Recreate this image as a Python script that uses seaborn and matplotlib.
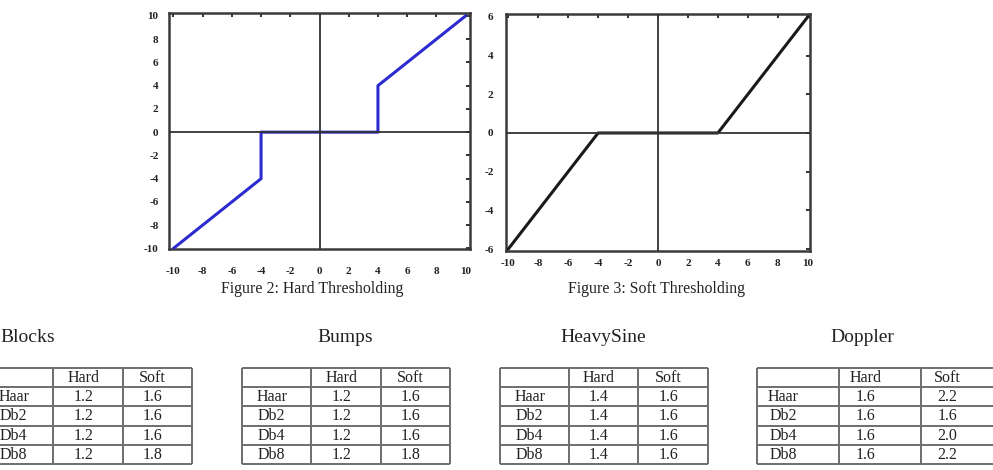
import matplotlib
matplotlib.use('Agg')
import matplotlib.pyplot as plt
import pandas as pd
import seaborn as sns

# threshold curves (breakpoints)
hard_x = [-10, -4, -4, 4, 4, 10]
hard_y = [-10, -4, 0, 0, 4, 10]
soft_x = [-10, -4, 4, 10]
soft_y = [-6, 0, 0, 6]
hard_ticks = [-10, -8, -6, -4, -2, 0, 2, 4, 6, 8, 10]
soft_yticks = [-6, -4, -2, 0, 2, 4, 6]
captions = ['Figure 2: Hard Thresholding', 'Figure 3: Soft Thresholding']

# result tables
signals = ['Blocks', 'Bumps', 'HeavySine', 'Doppler']
wavelets = ['Haar', 'Db2', 'Db4', 'Db8']
methods = ['Hard', 'Soft']
blocks_hard = [1.2, 1.2, 1.2, 1.2]
blocks_soft = [1.6, 1.6, 1.6, 1.8]
bumps_hard = [1.2, 1.2, 1.2, 1.2]
bumps_soft = [1.6, 1.6, 1.6, 1.8]
heavysine_hard = [1.4, 1.4, 1.4, 1.4]
heavysine_soft = [1.6, 1.6, 1.6, 1.6]
doppler_hard = [1.6, 1.6, 1.6, 1.6]
doppler_soft = [2.2, 1.6, 2.0, 2.2]

# settings
sns.set_style("white")
plt.rcParams['font.family'] = ['Liberation Serif', 'DejaVu Serif']
plt.rcParams['axes.unicode_minus'] = False
W, H = 993, 470
line_col = '#333333'
grid_col = '#6e6e6e'

fig = plt.figure(figsize=(W / 100, H / 100), dpi=100)

# overlay in pixel units for captions and tables
ov = fig.add_axes([0, 0, 1, 1])
ov.set_xlim(0, W)
ov.set_ylim(H, 0)
ov.set_axis_off()


def style_axes(ax, xlim, ylim, xticks, yticks, xpad, ypad):
    ax.set_xlim(*xlim)
    ax.set_ylim(*ylim)
    ax.set_xticks(xticks)
    ax.set_yticks(yticks)
    ax.set_xlabel('')
    ax.set_ylabel('')
    # zero axes drawn over the flat part of the curves, like the original
    ax.axhline(0, color=line_col, lw=1.3, zorder=4)
    ax.axvline(0, color=line_col, lw=1.3, zorder=4)
    for s in ax.spines.values():
        s.set_visible(True)
        s.set_color('#3a3a3a')
        s.set_linewidth(1.8)
    ax.tick_params(direction='in', top=True, right=True, length=3, width=1.4,
                   color=line_col, labelsize=8, labelcolor='#222222')
    ax.tick_params(axis='x', pad=xpad)
    ax.tick_params(axis='y', pad=ypad)
    for lab in ax.get_xticklabels() + ax.get_yticklabels():
        lab.set_fontweight('bold')


# hard thresholding
ax1 = fig.add_axes([169 / W, 1 - 249 / H, 301 / W, 236 / H])
hard = pd.DataFrame({'x': hard_x, 'y': hard_y})
sns.lineplot(data=hard, x='x', y='y', sort=False, estimator=None,
             color='#2b2bd0', lw=2.2, ax=ax1, zorder=3)
style_axes(ax1, (-10.3, 10.3), (-10.05, 10.25), hard_ticks, hard_ticks, 13, 7.5)

# soft thresholding
ax2 = fig.add_axes([506 / W, 1 - 251 / H, 304 / W, 237 / H])
soft = pd.DataFrame({'x': soft_x, 'y': soft_y})
sns.lineplot(data=soft, x='x', y='y', sort=False, estimator=None,
             color='#1a1a1a', lw=2.2, ax=ax2, zorder=3)
style_axes(ax2, (-10.15, 10.15), (-6.1, 6.15), hard_ticks, soft_yticks, 5.5, 9)

ov.text(312, 289, captions[0], ha='center', va='center', fontsize=11.4, color='#222')
ov.text(657, 289, captions[1], ha='center', va='center', fontsize=11.4, color='#222')

# tables
table_x0 = [-16, 242, 500, 757]
table_colw = [[69, 70, 69], [69, 70, 69], [69, 69, 70], [82, 82, 82]]
title_x = [28, 345, 603, 862]
text_frac = [0.43, 0.43, 0.43, 0.32]
row_y = [368, 387, 406, 426, 445, 464]
hard_cols = [blocks_hard, bumps_hard, heavysine_hard, doppler_hard]
soft_cols = [blocks_soft, bumps_soft, heavysine_soft, doppler_soft]

for t, name in enumerate(signals):
    ov.text(title_x[t], 342, name, ha='center', va='baseline', fontsize=14, color='#222')
    xs = [table_x0[t]]
    for w in table_colw[t]:
        xs.append(xs[-1] + w)
    ov.hlines(row_y, xs[0], xs[-1], color=grid_col, lw=1.4)
    ov.vlines(xs, row_y[0], row_y[-1], color=grid_col, lw=1.4)
    cells = [[''] + methods]
    for i, wv in enumerate(wavelets):
        cells.append([wv, '%.1f' % hard_cols[t][i], '%.1f' % soft_cols[t][i]])
    for r, row in enumerate(cells):
        yc = (row_y[r] + row_y[r + 1]) / 2
        for c, txt in enumerate(row):
            xc = xs[c] + text_frac[t] * table_colw[t][c]
            ov.text(xc, yc + 0.5, txt, ha='center', va='center', fontsize=11.5, color='#222')

fig.savefig('out.png', dpi=100)
plt.close()
